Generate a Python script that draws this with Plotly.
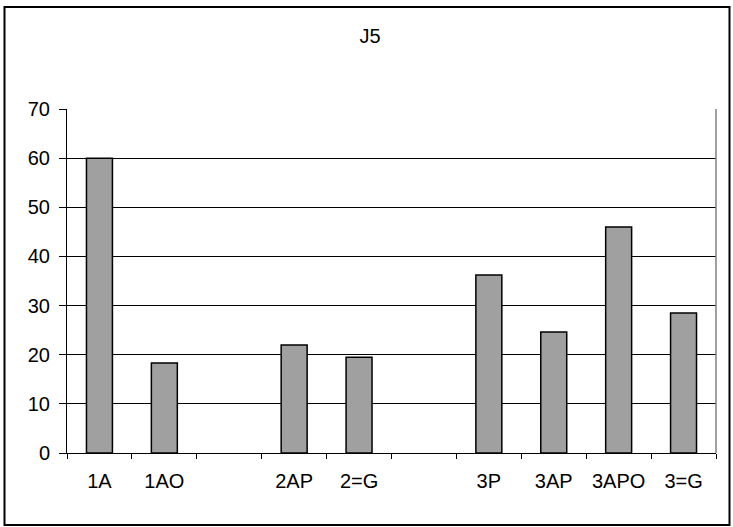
import plotly.graph_objects as go

categories = ["1A", "1AO", " ", "2AP", "2=G", "  ", "3P", "3AP", "3APO", "3=G"]
values = [60, 18.3, None, 22, 19.5, None, 36.2, 24.6, 46, 28.5]
title_text = "J5"

FONT = "Liberation Sans, Arial, sans-serif"
FS = 20

fig = go.Figure()
fig.add_trace(go.Bar(
    x=categories, y=values,
    marker=dict(color="#A0A0A0", line=dict(color="#000000", width=1.5)),
    showlegend=False,
))

W, H = 733, 527
L, R, T, B = 67, 17, 109, 74
pw, ph = W - L - R, H - T - B

def px_x(x):
    return (x - L) / pw

def px_y(y):
    return (H - B - y) / ph

fig.update_layout(
    width=W, height=H,
    margin=dict(l=L, r=R, t=T, b=B, autoexpand=False),
    paper_bgcolor="white", plot_bgcolor="white",
    bargap=0.6,
    font=dict(family=FONT, size=FS, color="#000000"),
    title=dict(text=title_text, x=370 / W, xanchor="center",
               y=1 - 36 / H, yanchor="middle",
               font=dict(family=FONT, size=FS, color="#000000")),
    xaxis=dict(
        type="category", categoryorder="array", categoryarray=categories,
        tickson="boundaries", ticks="outside", ticklen=5, tickcolor="#000000",
        tickwidth=1, showline=True, linecolor="#000000", linewidth=1,
        showgrid=False, tickfont=dict(size=FS), ticklabelstandoff=10,
    ),
    yaxis=dict(
        range=[0, 70], dtick=10, tick0=0, ticks="outside", ticklen=7,
        tickcolor="#000000", tickwidth=1, showline=True, linecolor="#000000",
        linewidth=1, showgrid=True, gridcolor="#000000", gridwidth=1,
        zeroline=False, tickfont=dict(size=FS), ticklabelstandoff=5,
    ),
    shapes=[
        dict(type="line", xref="paper", yref="paper", x0=1, x1=1, y0=0, y1=1,
             line=dict(color="#808080", width=1.5)),
        dict(type="rect", xref="paper", yref="paper",
             x0=px_x(4.5), x1=px_x(729.5), y0=px_y(525), y1=px_y(7),
             line=dict(color="#000000", width=2), fillcolor="rgba(0,0,0,0)",
             layer="below"),
    ],
)

fig.write_html("out.html", config={"displayModeBar": False},
               post_script="document.body.style.margin='0px';")
